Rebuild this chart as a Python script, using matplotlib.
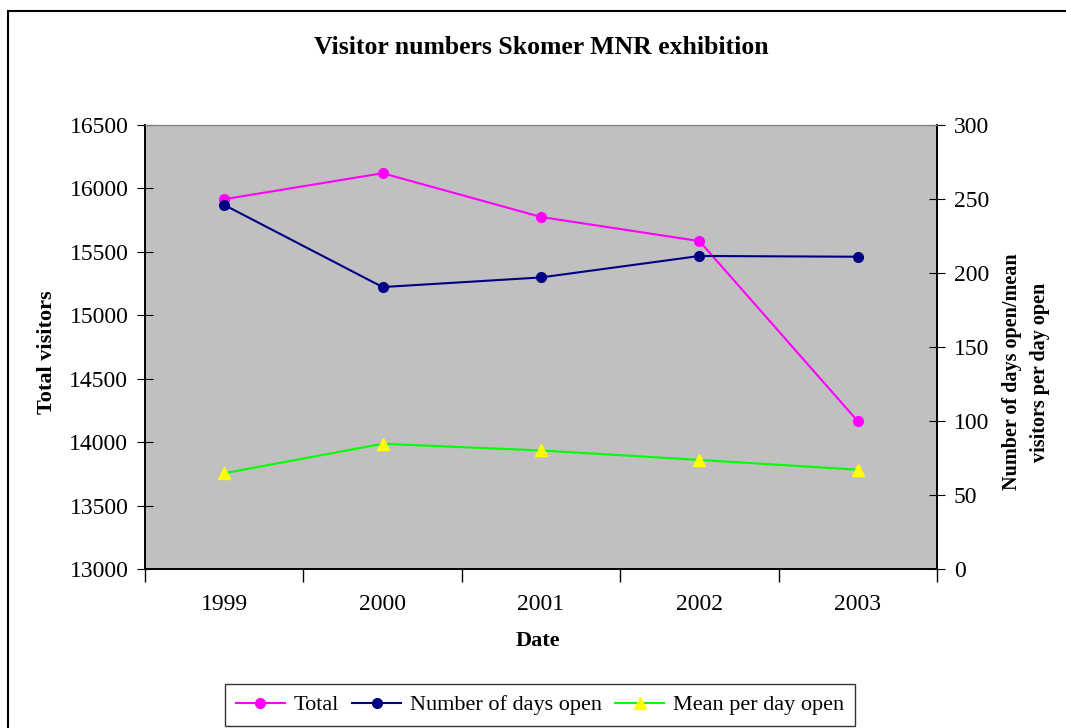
import matplotlib.pyplot as plt
from matplotlib.patches import Rectangle
from matplotlib.ticker import FixedLocator

years = ['1999', '2000', '2001', '2002', '2003']
total = [15915, 16120, 15775, 15585, 14165]
days_open = [246, 190.5, 197, 211.5, 211]
mean_per_day = [64.7, 84.6, 80.1, 73.7, 67.1]

plt.rcParams['font.family'] = ['Liberation Serif', 'DejaVu Serif']

fig = plt.figure(figsize=(10.66, 7.28), dpi=100)
ax = fig.add_axes([145/1066, 1-569/728, (937-145)/1066, (569-125)/728])
ax2 = ax.twinx()

x = list(range(len(years)))
l1, = ax.plot(x, total, color='#ff00ff', marker='o', ms=7, lw=1.5, label='Total')
l2, = ax2.plot(x, days_open, color='#000080', marker='o', ms=7, lw=1.5, label='Number of days open')
l3, = ax2.plot(x, mean_per_day, color='#00ff00', marker='^', ms=8, mfc='yellow', mec='yellow',
               lw=1.5, label='Mean per day open')

ax.set_facecolor('#c0c0c0')
ax.set_xlim(-0.5, 4.5)
ax.set_ylim(13000, 16500)
ax.set_yticks(range(13000, 16501, 500))
ax2.set_ylim(0, 300)
ax2.set_yticks(range(0, 301, 50))

ax.set_xticks(x)
ax.set_xticklabels(years)
ax.tick_params(axis='x', which='major', length=0, pad=18, labelsize=17)
ax.xaxis.set_minor_locator(FixedLocator([i - 0.5 for i in range(len(years) + 1)]))
ax.tick_params(axis='x', which='minor', length=9, direction='out', width=1)
ax.tick_params(axis='y', direction='inout', length=12, labelsize=17, pad=6)
ax2.tick_params(axis='y', direction='inout', length=12, labelsize=17, pad=6)

for a in (ax, ax2):
    a.spines['top'].set_color('#808080')
    a.spines['left'].set_linewidth(1.2)
    a.spines['right'].set_linewidth(1.2)
    a.spines['bottom'].set_linewidth(1.2)

fig.text(538/1066, 1-641/728, 'Date', ha='center', va='center', fontsize=16, fontweight='bold')
fig.text(47/1066, 1-352/728, 'Total visitors', ha='center', va='center', rotation=90,
         fontsize=16, fontweight='bold')
fig.text(1026/1066, 1-372/728, 'Number of days open/mean\nvisitors per day open', ha='center',
         va='center', rotation=90, multialignment='center', linespacing=1.5,
         fontsize=14.5, fontweight='bold')
fig.text(541/1066, 1-47/728, 'Visitor numbers Skomer MNR exhibition', ha='center', va='center',
         fontsize=18.5, fontweight='bold')

leg = fig.legend(handles=[l1, l2, l3], loc='center', bbox_to_anchor=(540/1066, 1-705/728),
                 ncol=3, fontsize=16, frameon=True, fancybox=False, handlelength=2.2,
                 columnspacing=0.6, handletextpad=0.4, borderpad=0.5)
leg.get_frame().set_edgecolor('black')
leg.get_frame().set_linewidth(1)

fig.patches.append(Rectangle((8/1066, -0.1), 1.2, 1 - 11/728 + 0.1, transform=fig.transFigure,
                             fill=False, edgecolor='black', lw=1.5))

fig.savefig('out.png', dpi=100)
